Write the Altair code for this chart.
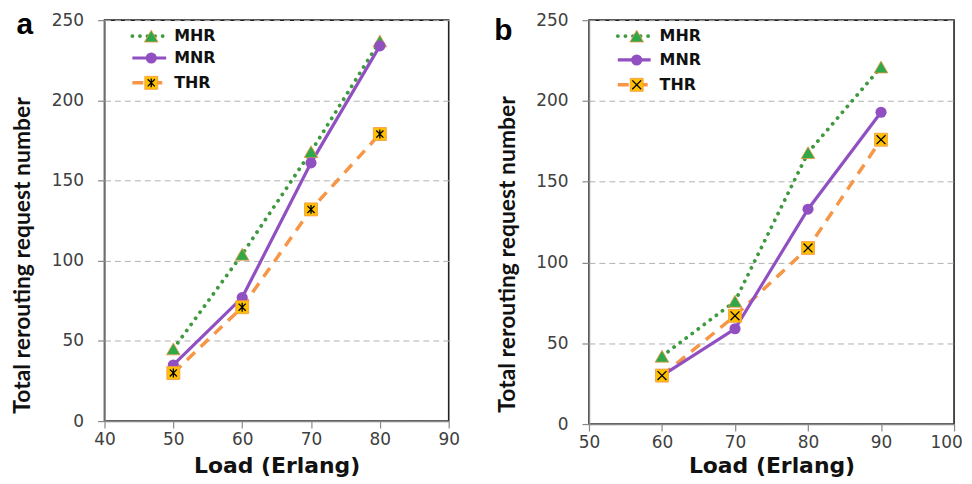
import altair as alt
import pandas as pd

# ---------------- data ----------------
series_names = ["MHR", "MNR", "THR"]

loads_a = [50, 60, 70, 80]
mhr_a = [45, 104, 168, 237]
mnr_a = [35, 77, 161, 234]
thr_a = [30, 71, 132, 179]

loads_b = [60, 70, 80, 90]
mhr_b = [42, 76, 168, 221]
mnr_b = [30, 59, 133, 193]
thr_b = [30, 67, 109, 176]

y_ticks = [0, 50, 100, 150, 200, 250]
x_ticks_a = [40, 50, 60, 70, 80, 90]
x_ticks_b = [50, 60, 70, 80, 90, 100]

# ---------------- styles ----------------
GREEN_LINE = "#3f9a3f"
GREEN_FILL = "#2fa84a"
PURPLE = "#9150c2"
ORANGE = "#f79646"
YELLOW = "#ffc000"
ASTERISK = "M0,-1L0,1M-0.8,-0.8L0.8,0.8M-0.8,0.8L0.8,-0.8"
XCROSS = "M-1,-1L1,1M-1,1L1,-1"
TICK_FONT = "DejaVu Sans"
YTITLE_FONT = "Lato"


def panel(loads, mhr, mnr, thr, xticks, w, h, label, star, leg, title_y, xtitle_y,
          lab_x, lab_y, last_shift):
    n = len(loads)
    df = pd.DataFrame({
        "load": loads * 3,
        "value": mhr + mnr + thr,
        "series": [series_names[0]] * n + [series_names[1]] * n + [series_names[2]] * n,
    })
    base = alt.Chart(df)
    x = alt.X("load:Q",
              scale=alt.Scale(domain=[xticks[0], xticks[-1]], nice=False, zero=False),
              axis=alt.Axis(values=xticks, title="Load (Erlang)", grid=False,
                            labelFont=TICK_FONT, labelFontSize=17, labelColor="#404040",
                            tickSize=7, labelPadding=4, labelFlush=False,
                            labelOffset=alt.condition(f"datum.value == {xticks[-1]}",
                                                      alt.value(last_shift), alt.value(0)),
                            titleFont="DejaVu Sans", titleFontSize=22, titleFontWeight="bold",
                            titleColor="#111", titleY=xtitle_y, titleBaseline="middle"))
    y = alt.Y("value:Q",
              scale=alt.Scale(domain=[0, 250], nice=False),
              axis=alt.Axis(values=y_ticks, title="Total rerouting request number",
                            grid=True, gridDash=[6, 4], gridColor="#b0b0b0", gridWidth=1,
                            labelFont=TICK_FONT, labelFontSize=17, labelColor="#404040",
                            tickSize=7, labelPadding=14, labelFlush=False,
                            titleFont=YTITLE_FONT, titleFontSize=23, titleFontWeight="bold",
                            titleColor="#111", titleX=-82, titleY=title_y,
                            titleAngle=-90, titleAlign="center", titleBaseline="middle"))

    def sel(name):
        return base.transform_filter(alt.datum.series == name)

    thr_line = sel("THR").mark_line(color=ORANGE, strokeWidth=3.5, strokeDash=[11, 8]).encode(x=x, y=y)
    mhr_line = sel("MHR").mark_line(color=GREEN_LINE, strokeWidth=3.8, strokeDash=[0.1, 7.5],
                                    strokeCap="round").encode(x=x, y=y)
    mnr_line = sel("MNR").mark_line(color=PURPLE, strokeWidth=3.2).encode(x=x, y=y)

    tri = dict(shape="triangle-up", filled=True, fill=GREEN_FILL, stroke=ORANGE,
               strokeWidth=0.8, size=190, opacity=1)
    circ = dict(shape="circle", filled=True, color=PURPLE, size=125, opacity=1)
    sq = dict(shape="square", filled=True, fill=YELLOW, stroke=ORANGE, strokeWidth=0.8,
              size=170, opacity=1)
    st_ = dict(shape=star, filled=False, stroke="black", strokeWidth=1.3, size=80, opacity=1)

    mhr_pts = sel("MHR").mark_point(**tri).encode(x=x, y=y)
    mnr_pts = sel("MNR").mark_point(**circ).encode(x=x, y=y)
    thr_sq = sel("THR").mark_point(**sq).encode(x=x, y=y)
    thr_star = sel("THR").mark_point(**st_).encode(x=x, y=y)

    # legend drawn inside plot area
    lx0, lx1, mx, tx, rows = leg
    legend_layers = []
    styles = [
        dict(line=dict(color=GREEN_LINE, strokeWidth=3.8, strokeDash=[0.1, 7.5], strokeCap="round"),
             pts=[tri]),
        dict(line=dict(color=PURPLE, strokeWidth=3.2), pts=[circ]),
        dict(line=dict(color=ORANGE, strokeWidth=3.5, strokeDash=[11, 8]), pts=[sq, st_]),
    ]
    for name, ry, st in zip(series_names, rows, styles):
        ld = alt.Chart(pd.DataFrame({"series": [name]}))
        legend_layers.append(ld.mark_rule(**st["line"]).encode(
            x=alt.value(lx0), x2=alt.value(lx1), y=alt.value(ry)))
        for p in st["pts"]:
            legend_layers.append(ld.mark_point(**p).encode(x=alt.value(mx), y=alt.value(ry)))
        legend_layers.append(ld.mark_text(align="left", baseline="middle", font="DejaVu Sans",
                                          fontSize=16, fontWeight="bold", color="#111").encode(
            x=alt.value(tx), y=alt.value(ry), text=alt.Text("series:N")))

    lab = alt.Chart(pd.DataFrame({"label": [label]})).mark_text(
        font="Liberation Sans", fontSize=30, fontWeight="bold", color="black",
        align="center", baseline="middle").encode(
        x=alt.value(lab_x), y=alt.value(lab_y), text=alt.Text("label:N"))

    return alt.layer(thr_line, mhr_line, mnr_line, mhr_pts, mnr_pts, thr_sq, thr_star,
                     *legend_layers, lab).properties(width=w, height=h)


pa = panel(loads_a, mhr_a, mnr_a, thr_a, x_ticks_a, 346, 403, "a", ASTERISK,
           (28, 62, 47, 70, [16, 38, 63]), 236, 45, -80, 5, 0)
pb = panel(loads_b, mhr_b, mnr_b, thr_b, x_ticks_b, 367, 406, "b", XCROSS,
           (29, 62, 48, 71, [16, 40, 65]), 235, 42, -86, 11, -8)

chart = alt.hconcat(pa, pb, spacing=33).properties(
    padding={"left": 3, "top": 0, "right": 0, "bottom": 0}
).configure_view(stroke="#222", strokeWidth=1.6).configure_axis(
    domainColor="#888", domainWidth=1.5, tickColor="#888", tickWidth=1.2
).resolve_scale(x="independent")

chart.save("out.html", embed_options={"renderer": "svg", "actions": False})
